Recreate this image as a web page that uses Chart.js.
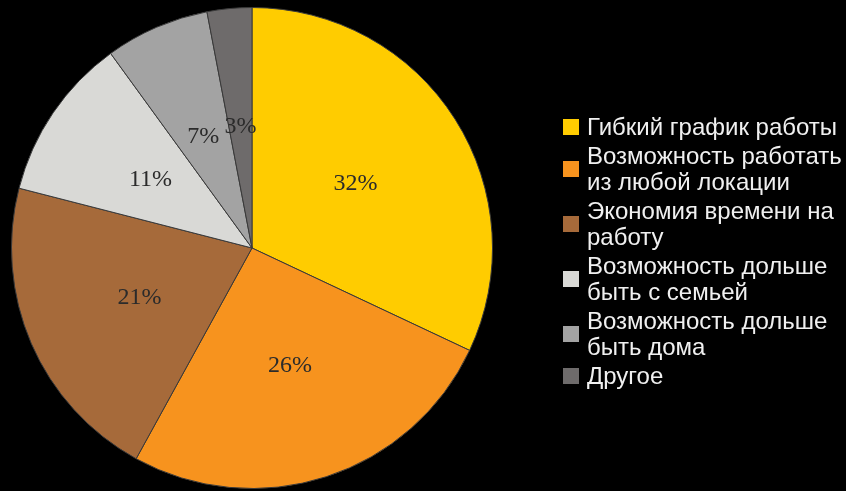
<!DOCTYPE html>
<html>
<head>
<meta charset="utf-8">
<script src="https://cdn.jsdelivr.net/npm/chart.js@4"></script>
<style>
  html, body { margin: 0; padding: 0; background: #000; }
  #wrap { position: relative; width: 846px; height: 491px; }
  #legend { position: absolute; left: 563px; top: 114px; font-family: "Liberation Sans", Arial, sans-serif; font-size: 24px; line-height: 26px; color: #f0f0f0; white-space: nowrap; }
  .item { display: flex; align-items: center; margin-bottom: 3px; }
  .box { width: 16px; height: 16px; margin-right: 8px; flex: none; }
</style>
</head>
<body>
<div id="wrap">
  <canvas id="chart" width="846" height="491"></canvas>
  <div id="legend"></div>
</div>
<script>
// données
const categories = [
  ['Гибкий график работы'],
  ['Возможность работать', 'из любой локации'],
  ['Экономия времени на', 'работу'],
  ['Возможность дольше', 'быть с семьей'],
  ['Возможность дольше', 'быть дома'],
  ['Другое']
];
const values = [32, 26, 21, 11, 7, 3];
const colors = ['#FFCC00', '#F7931E', '#A66A3A', '#D9D9D6', '#A3A3A3', '#6E6B6B'];

// étiquettes en pourcentage au milieu de chaque part
const sliceLabels = {
  id: 'sliceLabels',
  afterDatasetsDraw(chart) {
    const ctx = chart.ctx;
    const meta = chart.getDatasetMeta(0);
    ctx.save();
    ctx.font = '24px "Liberation Serif", "Times New Roman", serif';
    ctx.fillStyle = '#2b2b2b';
    ctx.textAlign = 'center';
    ctx.textBaseline = 'middle';
    meta.data.forEach((arc, i) => {
      const p = arc.getProps(['x', 'y', 'startAngle', 'endAngle', 'outerRadius'], true);
      const a = (p.startAngle + p.endAngle) / 2;
      const r = p.outerRadius * 0.51;
      ctx.fillText(values[i] + '%', p.x + Math.cos(a) * r, p.y + Math.sin(a) * r + 1);
    });
    ctx.restore();
  }
};

new Chart(document.getElementById('chart'), {
  type: 'pie',
  data: {
    labels: categories.map(c => c.join(' ')),
    datasets: [{
      data: values,
      backgroundColor: colors,
      borderColor: '#3a3a3a',
      borderWidth: 1
    }]
  },
  options: {
    responsive: false,
    animation: false,
    layout: { padding: { left: 11, right: 353, top: 7, bottom: 2 } },
    plugins: {
      legend: { display: false },
      tooltip: { enabled: false }
    }
  },
  plugins: [sliceLabels]
});

// légende HTML (les libellés passent sur deux lignes)
const legend = document.getElementById('legend');
categories.forEach((lines, i) => {
  const div = document.createElement('div');
  div.className = 'item';
  const box = document.createElement('span');
  box.className = 'box';
  box.style.background = colors[i];
  const txt = document.createElement('span');
  txt.innerHTML = lines.join('<br>');
  div.appendChild(box);
  div.appendChild(txt);
  legend.appendChild(div);
});
</script>
</body>
</html>
